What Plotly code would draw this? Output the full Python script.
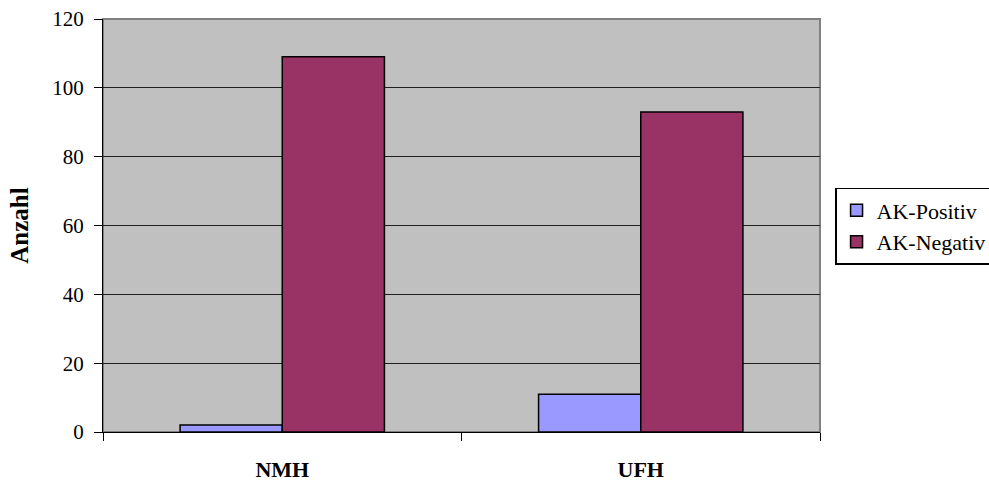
import plotly.graph_objects as go

categories = ["NMH", "UFH"]
series_names = ["AK-Positiv", "AK-Negativ"]
ak_positiv = [2, 11]
ak_negativ = [109, 93]
y_ticks = [0, 20, 40, 60, 80, 100, 120]

FONT = "Liberation Serif"

fig = go.Figure()
fig.add_trace(go.Bar(x=categories, y=ak_positiv, name=series_names[0],
                     marker=dict(color="#9999FF", line=dict(color="#000000", width=1.5))))
fig.add_trace(go.Bar(x=categories, y=ak_negativ, name=series_names[1],
                     marker=dict(color="#993366", line=dict(color="#000000", width=1.5))))

fig.update_layout(
    width=989, height=483,
    margin=dict(l=103, r=169, t=19, b=51, autoexpand=False),
    paper_bgcolor="#FFFFFF",
    plot_bgcolor="#C0C0C0",
    barmode="group",
    bargap=0.43,
    bargroupgap=0,
    font=dict(family=FONT, color="#000000", size=20),
    showlegend=True,
    legend=dict(
        x=1.021, y=0.591, xanchor="left", yanchor="top",
        bordercolor="#000000", borderwidth=1.5,
        font=dict(family=FONT, size=22, color="#000000"),
        bgcolor="#FFFFFF",
        tracegroupgap=4,
        itemwidth=30,
    ),
    shapes=[dict(type="rect", xref="paper", yref="paper", x0=0, y0=0, x1=1, y1=1,
                 line=dict(color="#808080", width=2), layer="below")],
)

fig.update_xaxes(
    tickmode="array",
    tickvals=categories,
    ticktext=["<b>%s</b>" % c for c in categories],
    tickson="boundaries",
    ticks="outside", ticklen=8, tickcolor="#000000", tickwidth=1,
    showline=True, linecolor="#000000", linewidth=1,
    showgrid=False,
    tickfont=dict(family=FONT, size=22, color="#000000"),
    ticklabelstandoff=18,
)

fig.update_yaxes(
    range=[0, 120],
    tickmode="array", tickvals=y_ticks,
    ticks="outside", ticklen=8, tickcolor="#000000", tickwidth=1,
    showline=True, linecolor="#000000", linewidth=1,
    showgrid=True, gridcolor="#202020", gridwidth=1,
    zeroline=False,
    tickfont=dict(family=FONT, size=21, color="#000000"),
    ticklabelstandoff=6,
    title=dict(text="<b>Anzahl</b>", font=dict(family=FONT, size=25, color="#000000"), standoff=16),
)

fig.write_html("out.html")
